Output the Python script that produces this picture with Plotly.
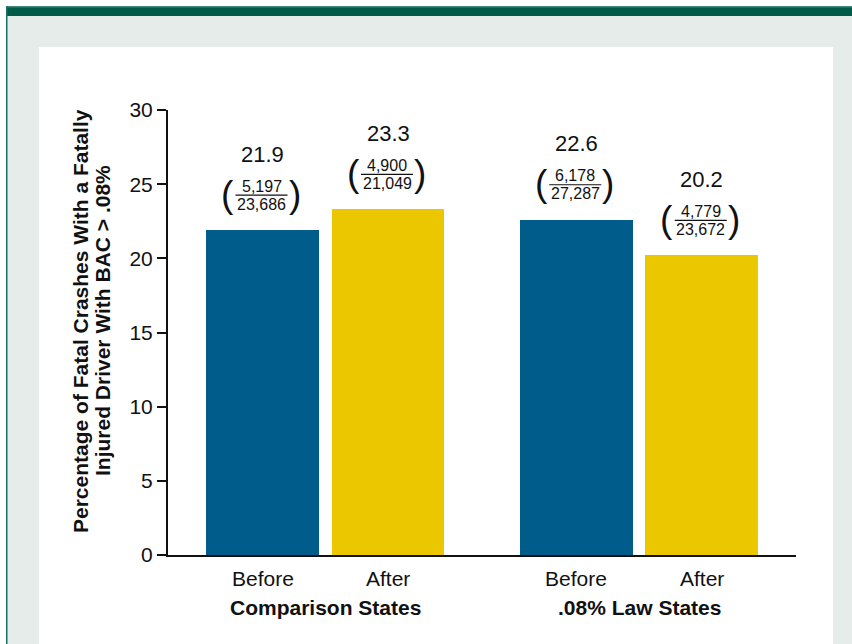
import plotly.graph_objects as go

# Data
groups = ["Comparison States", ".08% Law States"]
periods = ["Before", "After"]
numerators = [5197, 4900, 6178, 4779]
denominators = [23686, 21049, 27287, 23672]
percent_labels = [21.9, 23.3, 22.6, 20.2]
bar_colors = ["#005d8b", "#ebc700"]
y_ticks = [0, 5, 10, 15, 20, 25, 30]
y_title_lines = ["Percentage of Fatal Crashes With a Fatally", "Injured Driver With BAC > .08%"]

# Figure geometry (pixels)
W, H = 852, 644
L, R, T, B = 168, 56, 110, 89
PW, PH = W - L - R, H - T - B
FONT = "Liberation Sans"

# bar positions: two bars per group, a wider gap between groups
group_gap = 1.5
xs, cols, tick_text = [], [], []
for gi, g in enumerate(groups):
    for pi, p in enumerate(periods):
        xs.append(gi * (1 + group_gap) + pi)
        cols.append(bar_colors[pi])
        tick_text.append(p)
group_centers = [gi * (1 + group_gap) + 0.5 for gi in range(len(groups))]

fig = go.Figure()
fig.add_trace(go.Bar(
    x=xs, y=percent_labels, width=0.9,
    marker=dict(color=cols, line=dict(width=0)),
    hoverinfo="skip", showlegend=False,
))


def px(xp):
    return (xp - L) / PW


def py(yp):
    return (H - B - yp) / PH


shapes = []
# page background, frame and header band
shapes.append(dict(type="rect", xref="paper", yref="paper", x0=px(6), x1=px(W + 2), y0=py(H + 2), y1=py(6),
                   fillcolor="#e6ecea", line=dict(width=0), layer="below"))
shapes.append(dict(type="rect", xref="paper", yref="paper", x0=px(39), x1=px(833), y0=py(H + 2), y1=py(47),
                   fillcolor="white", line=dict(width=0), layer="below"))
shapes.append(dict(type="rect", xref="paper", yref="paper", x0=px(6), x1=px(W + 2), y0=py(16), y1=py(6),
                   fillcolor="#005b49", line=dict(width=0), layer="below"))
shapes.append(dict(type="rect", xref="paper", yref="paper", x0=px(6), x1=px(W + 2), y0=py(7.5), y1=py(6),
                   fillcolor="#3f8a78", line=dict(width=0), layer="below"))
shapes.append(dict(type="rect", xref="paper", yref="paper", x0=px(6), x1=px(7.5), y0=py(H + 2), y1=py(6),
                   fillcolor="#1c7060", line=dict(width=0), layer="below"))

annotations = []
for x, v, n, d, lab in zip(xs, percent_labels, numerators, denominators, percent_labels):
    annotations.append(dict(x=x, y=v, xref="x", yref="y", text=f"{lab:.1f}", showarrow=False,
                            yanchor="middle", yshift=76, font=dict(family=FONT, size=22, color="#111")))
    annotations.append(dict(x=x, y=v, xref="x", yref="y", text=f"{n:,}", showarrow=False,
                            yanchor="middle", yshift=44, xshift=-1, font=dict(family=FONT, size=16, color="#111")))
    annotations.append(dict(x=x, y=v, xref="x", yref="y", text=f"{d:,}", showarrow=False,
                            yanchor="middle", yshift=26, xshift=-1, font=dict(family=FONT, size=16, color="#111")))
    for ch, sx in (("(", -35), (")", 32)):
        annotations.append(dict(x=x, y=v, xref="x", yref="y", text=ch, showarrow=False,
                                yanchor="middle", yshift=36, xshift=sx,
                                font=dict(family=FONT, size=37, color="#111")))
    shapes.append(dict(type="line", xref="x", yref="y", xsizemode="pixel", ysizemode="pixel",
                       xanchor=x, yanchor=v, x0=-27, x1=25, y0=35, y1=35,
                       line=dict(color="#111", width=1.2)))

for x, t in zip(xs, tick_text):
    annotations.append(dict(x=x, y=0, xref="x", yref="paper", text=t, showarrow=False,
                            yanchor="middle", yshift=-23, font=dict(family=FONT, size=21, color="#111")))
for gx, g in zip(group_centers, groups):
    annotations.append(dict(x=gx, y=0, xref="x", yref="paper", text=f"<b>{g}</b>", showarrow=False,
                            yanchor="middle", yshift=-52, font=dict(family=FONT, size=21, color="#111")))

# rotated two-line axis title, lines placed individually for tighter leading
for line_text, lx in zip(y_title_lines, (80, 102)):
    annotations.append(dict(x=px(lx), y=py(321), xref="paper", yref="paper",
                            text=f"<b>{line_text}</b>",
                            showarrow=False, textangle=-90, xanchor="center", yanchor="middle",
                            font=dict(family=FONT, size=21, color="#111")))

x_lo = xs[0] - 0.753
x_hi = xs[-1] + 0.751

fig.update_layout(
    width=W, height=H,
    margin=dict(l=L, r=R, t=T, b=B, pad=0),
    paper_bgcolor="white", plot_bgcolor="rgba(0,0,0,0)",
    shapes=shapes, annotations=annotations,
    bargap=0,
    xaxis=dict(range=[x_lo, x_hi], showline=True, linecolor="#111", linewidth=2,
               showticklabels=False, ticks="", showgrid=False, zeroline=False, fixedrange=True),
    yaxis=dict(range=[0, 30], tickvals=y_ticks, showline=True, linecolor="#111", linewidth=2,
               ticks="outside", ticklen=9, tickwidth=2, tickcolor="#111",
               tickfont=dict(family=FONT, size=21, color="#111"),
               showgrid=False, zeroline=False, fixedrange=True),
)

fig.write_html("out.html", config={"displayModeBar": False})
